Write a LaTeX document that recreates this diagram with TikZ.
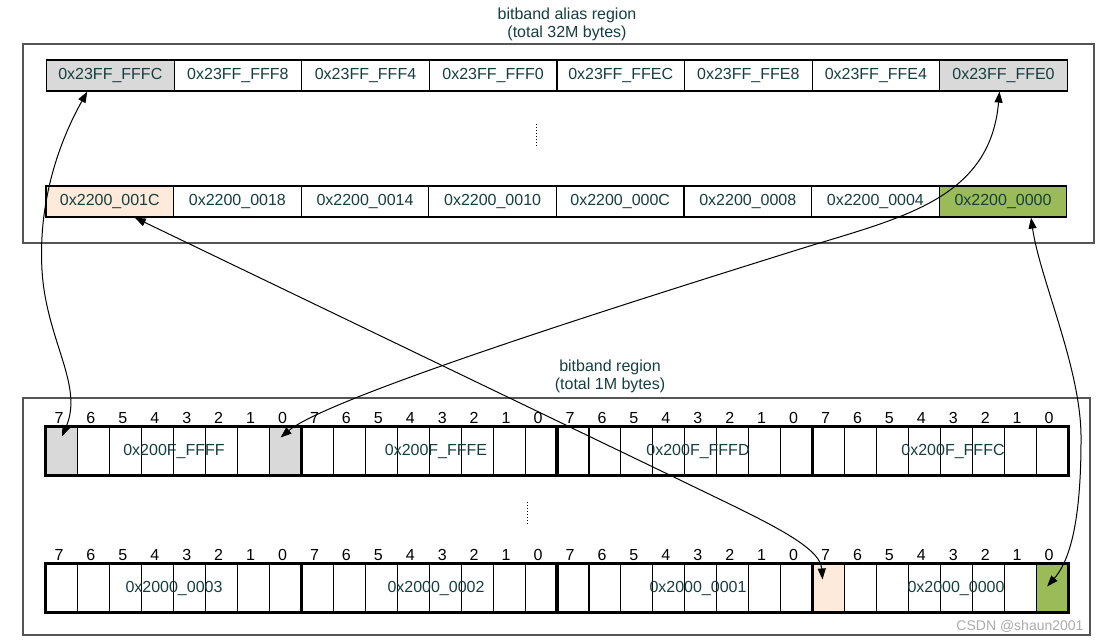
\documentclass[tikz,border=0pt]{standalone}
\usepackage{fontspec}
\setmainfont{Liberation Sans}
\usetikzlibrary{arrows.meta}
\definecolor{txt}{RGB}{22,62,62}
\definecolor{cgray}{RGB}{217,217,217}
\definecolor{cpeach}{RGB}{253,234,218}
\definecolor{cgreen}{RGB}{155,187,89}
\definecolor{boxline}{RGB}{85,85,85}
\tikzset{
  acell/.style={draw=black, line width=1.2pt, minimum width=127.6pt, minimum height=31pt, inner sep=0pt, text=txt, font=\fontsize{16}{18}\selectfont},
  bcell/.style={draw=black, line width=1.1pt, minimum width=31.94pt, minimum height=48pt, inner sep=0pt},
  bitnum/.style={font=\fontsize{16}{18}\selectfont, text=black, inner sep=0pt},
  blabel/.style={font=\fontsize{16}{18}\selectfont, text=txt, inner sep=0pt},
  title/.style={font=\fontsize{16}{18}\selectfont, text=txt, align=center, inner sep=0pt},
  region/.style={draw=boxline, line width=1.2pt},
  bytebox/.style={draw=black, line width=2.3pt},
  dbl/.style={{Triangle[length=11pt,width=8pt]}-{Triangle[length=11pt,width=8pt]}, line width=1pt, black},
  vdots/.style={dotted, line width=1pt, black}
}
\begin{document}
\begin{tikzpicture}[x=1pt,y=-1pt]
\useasboundingbox (0,0) rectangle (1100,641);
% region boxes
\draw[region] (23,44) rectangle (1094,243);
\draw[region] (23,398) rectangle (1090,635);
\node[title] (t1) at (567,24) {bitband alias region\\(total 32M bytes)};
\node[title] (t2) at (610,376) {bitband region\\(total 1M bytes)};
% alias rows
\foreach \i/\lab/\fc in {1/0x23FF\_FFFC/cgray,2/0x23FF\_FFF8/white,3/0x23FF\_FFF4/white,4/0x23FF\_FFF0/white,5/0x23FF\_FFEC/white,6/0x23FF\_FFE8/white,7/0x23FF\_FFE4/white,8/0x23FF\_FFE0/cgray}{
  \node[acell, fill=\fc] (a\i) at ({46.5+(\i-0.5)*127.6},75.5) {\lab};
}
\foreach \i/\lab/\fc in {1/0x2200\_001C/cpeach,2/0x2200\_0018/white,3/0x2200\_0014/white,4/0x2200\_0010/white,5/0x2200\_000C/white,6/0x2200\_0008/white,7/0x2200\_0004/white,8/0x2200\_0000/cgreen}{
  \node[acell, fill=\fc] (b\i) at ({46+(\i-0.5)*127.6},201.5) {\lab};
}
\coordinate (d1a) at (536,124); \coordinate (d1b) at (536,148);
\draw[vdots] (d1a) -- (d1b);
% bit rows
\foreach \k in {0,...,31}{
  \pgfmathtruncatemacro{\bit}{7-mod(\k,8)}
  \node[bcell] (t\k) at ({46+(\k+0.5)*31.94},451) {};
  \node[bcell] (u\k) at ({46+(\k+0.5)*31.94},588) {};
  \node[bitnum] (tn\k) at ({46+(\k+0.5)*31.94-3},418) {\bit};
  \node[bitnum] (un\k) at ({46+(\k+0.5)*31.94-3},555) {\bit};
}
% fills
\node[bcell, fill=cgray] at (t0) {};
\node[bcell, fill=cgray] at (t7) {};
\node[bcell, fill=cpeach] at (u24) {};
\node[bcell, fill=cgreen] at (u31) {};
% byte outlines
\foreach \s/\e in {0/7,8/15,16/23,24/31}{
  \draw[bytebox] (t\s.north west) rectangle (t\e.south east);
  \draw[bytebox] (u\s.north west) rectangle (u\e.south east);
}
\node[blabel] (l1) at (174,451) {0x200F\_FFFF};
\node[blabel] (l2) at (436,451) {0x200F\_FFFE};
\node[blabel] (l3) at (698,451) {0x200F\_FFFD};
\node[blabel] (l4) at (953,451) {0x200F\_FFFC};
\node[blabel] (m1) at (174,588) {0x2000\_0003};
\node[blabel] (m2) at (436,588) {0x2000\_0002};
\node[blabel] (m3) at (698,588) {0x2000\_0001};
\node[blabel] (m4) at (956,588) {0x2000\_0000};
\coordinate (d2a) at (527,502); \coordinate (d2b) at (527,524);
\draw[vdots] (d2a) -- (d2b);
% connectors
\draw[dbl] ([xshift=-23pt]a1.south) .. controls (60,140) and (38,200) .. (42,270) .. controls (46,340) and (84,385) .. ([yshift=-10pt]t0.north);
\draw[dbl] ([xshift=-5pt,yshift=-11pt]t7.north) .. controls (330,396) and (650,296) .. (800,249) .. controls (900,218) and (990,200) .. ([xshift=-4pt]a8.south);
\draw[dbl] ([xshift=25pt]b1.south) -- (680,480) .. controls (760,519) and (820,545) .. ([xshift=-6pt,yshift=-16pt]u24.north);
\draw[dbl] ([xshift=28pt]b8.south) .. controls (1040,280) and (1082,370) .. (1081,440) .. controls (1081,500) and (1075,555) .. ([xshift=-5pt,yshift=-23pt]u31.north);
\node[font=\fontsize{14}{16}\selectfont, text={rgb,255:red,170;green,170;blue,170}, inner sep=0pt] (wm) at (1020,626) {CSDN @shaun2001};
\end{tikzpicture}
\end{document}
